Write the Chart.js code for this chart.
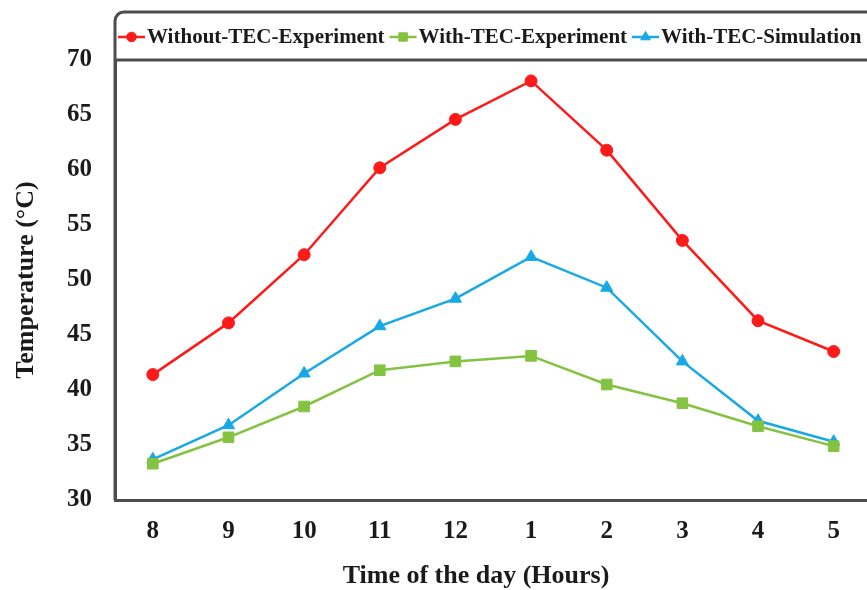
<!DOCTYPE html>
<html>
<head>
<meta charset="utf-8">
<script src="https://cdn.jsdelivr.net/npm/chart.js@4.4.1/dist/chart.umd.min.js"></script>
<style>
  html, body { margin: 0; padding: 0; background: #fff; overflow: hidden; }
  #wrap { width: 867px; height: 590px; overflow: hidden; }
</style>
</head>
<body>
<div id="wrap">
  <canvas id="tempChart" width="880" height="590"></canvas>
</div>
<script>
// hours of the day, 8 am through 5 pm
const hours = ['8', '9', '10', '11', '12', '1', '2', '3', '4', '5'];

// panel temperature in °C
const withoutTecExperiment = [41.4, 46.1, 52.3, 60.2, 64.6, 68.1, 61.8, 53.6, 46.3, 43.5];
const withTecExperiment = [33.3, 35.7, 38.5, 41.8, 42.6, 43.1, 40.5, 38.8, 36.7, 34.9];
const withTecSimulation = [33.7, 36.8, 41.5, 45.8, 48.3, 52.1, 49.3, 42.6, 37.2, 35.3];

const yMin = 30;
const yMax = 70;
const yStep = 5;

const xTitle = 'Time of the day (Hours)';

const serif = '"Liberation Serif", "Times New Roman", serif';
const frameColor = '#4d4d4d';
const textColor = '#1a1a1a';

// frame with rounded top-left corner, legend strip above the plot, x title
const framePlugin = {
  id: 'frame',
  afterDraw(chart) {
    const { ctx, chartArea } = chart;
    const top = 12;
    const r = 9;
    const right = chart.width + 5;
    ctx.save();
    ctx.strokeStyle = frameColor;
    ctx.lineWidth = 3;
    ctx.beginPath();
    ctx.moveTo(chartArea.left, chartArea.bottom);
    ctx.lineTo(chartArea.left, top + r);
    ctx.arcTo(chartArea.left, top, chartArea.left + r, top, r);
    ctx.lineTo(right, top);
    ctx.moveTo(chartArea.left, chartArea.top);
    ctx.lineTo(right, chartArea.top);
    ctx.stroke();

    // legend entries: short line with marker, then the label
    const y = (top + chartArea.top) / 2 + 1;
    let x = chartArea.left + 3;
    ctx.font = 'bold 21px ' + serif;
    ctx.textBaseline = 'middle';
    ctx.textAlign = 'left';
    chart.data.datasets.forEach(ds => {
      ctx.strokeStyle = ds.borderColor;
      ctx.fillStyle = ds.borderColor;
      ctx.lineWidth = 2.5;
      ctx.beginPath();
      ctx.moveTo(x, y);
      ctx.lineTo(x + 27, y);
      ctx.stroke();
      ctx.lineWidth = 1;
      Chart.helpers.drawPoint(ctx, {
        pointStyle: ds.pointStyle,
        radius: ds.pointRadius * 0.8,
        borderWidth: 1
      }, x + 13.5, y);
      ctx.fillStyle = textColor;
      ctx.fillText(ds.label, x + 29, y + 1);
      x += 29 + ctx.measureText(ds.label).width + 5;
    });

    // x axis title sits a little left of the plot centre
    ctx.font = 'bold 26px ' + serif;
    ctx.textAlign = 'center';
    ctx.fillStyle = textColor;
    ctx.fillText(xTitle, chartArea.left + 361, chartArea.bottom + 76);
    ctx.restore();
  }
};

function series(label, data, color, style, radius) {
  return {
    label: label,
    data: data,
    borderColor: color,
    backgroundColor: color,
    borderWidth: 2.5,
    pointStyle: style,
    pointRadius: radius,
    pointBorderWidth: 1,
    pointBackgroundColor: color,
    pointBorderColor: color,
    tension: 0
  };
}

new Chart(document.getElementById('tempChart'), {
  type: 'line',
  data: {
    labels: hours,
    datasets: [
      series('Without-TEC-Experiment', withoutTecExperiment, '#ff1a1a', 'circle', 6),
      series('With-TEC-Experiment', withTecExperiment, '#84c341', 'rect', 7.5),
      series('With-TEC-Simulation', withTecSimulation, '#17a9e6', 'triangle', 7)
    ]
  },
  options: {
    responsive: false,
    animation: false,
    layout: { padding: { left: 0, top: 60, right: 4, bottom: 0 } },
    plugins: {
      legend: { display: false },
      tooltip: { enabled: false }
    },
    scales: {
      x: {
        offset: true,
        grid: { display: false, drawTicks: false },
        border: { display: true, color: frameColor, width: 3 },
        ticks: {
          color: textColor,
          padding: 17,
          font: { family: serif, size: 25, weight: 'bold' }
        },
        afterFit(scale) { scale.height = 90; }
      },
      y: {
        min: yMin,
        max: yMax,
        grid: { display: false, drawTicks: false },
        border: { display: true, color: frameColor, width: 3 },
        ticks: {
          stepSize: yStep,
          color: textColor,
          padding: 23,
          font: { family: serif, size: 25, weight: 'bold' }
        },
        title: {
          display: true,
          text: 'Temperature (°C)',
          color: textColor,
          padding: { top: 11, bottom: 0 },
          font: { family: serif, size: 26, weight: 'bold' }
        },
        afterFit(scale) { scale.width = 115; }
      }
    }
  },
  plugins: [framePlugin]
});
</script>
</body>
</html>
